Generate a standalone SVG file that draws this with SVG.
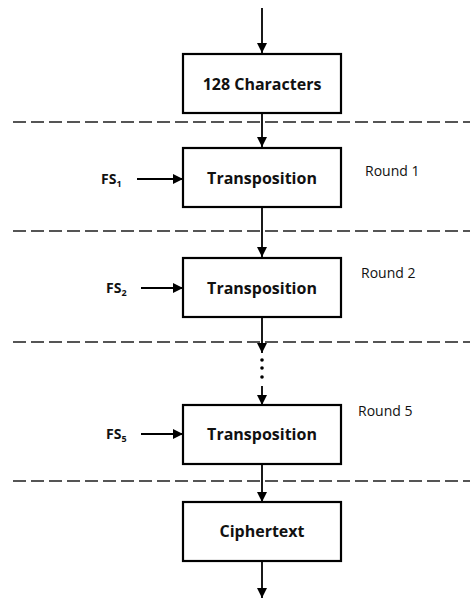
<svg xmlns="http://www.w3.org/2000/svg" width="473" height="598" viewBox="0 0 473 598">
<style>
.box{fill:#fff;stroke:#000;stroke-width:2.2}
.lbl{font-family:"Open Sans","Liberation Sans",sans-serif;font-weight:bold;font-size:16px;fill:#111;text-anchor:middle}
.fs{font-family:"Open Sans","Liberation Sans",sans-serif;font-weight:bold;font-size:14px;fill:#111}
.rnd{font-family:"Open Sans","Liberation Sans",sans-serif;font-size:14px;fill:#111}
.ln{stroke:#000;stroke-width:1.8;fill:none}
.dash{stroke:#555;stroke-width:2;stroke-dasharray:13,5;fill:none}
</style>
<defs>
<marker id="ah" viewBox="0 0 10 10" refX="10" refY="5" markerWidth="10" markerHeight="10" markerUnits="userSpaceOnUse" orient="auto">
<path d="M0,0 L10,5 L0,10 z" fill="#000"/>
</marker>
</defs>
<g id="separators">
<line class="dash" x1="13" y1="122" x2="470" y2="122"/>
<line class="dash" x1="13" y1="231" x2="470" y2="231"/>
<line class="dash" x1="13" y1="342" x2="470" y2="342"/>
<line class="dash" x1="13" y1="481" x2="470" y2="481"/>
</g>
<g id="connectors">
<line class="ln" x1="262" y1="8" x2="262" y2="53" marker-end="url(#ah)"/>
<line class="ln" x1="262" y1="113" x2="262" y2="147" marker-end="url(#ah)"/>
<line class="ln" x1="262" y1="207" x2="262" y2="257" marker-end="url(#ah)"/>
<line class="ln" x1="262" y1="317" x2="262" y2="353" marker-end="url(#ah)"/>
<line class="ln" x1="262" y1="386" x2="262" y2="405" marker-end="url(#ah)"/>
<line class="ln" x1="262" y1="464" x2="262" y2="502" marker-end="url(#ah)"/>
<line class="ln" x1="262" y1="561" x2="262" y2="598" marker-end="url(#ah)"/>
<line class="ln" x1="137" y1="179" x2="183" y2="179" marker-end="url(#ah)"/>
<line class="ln" x1="141" y1="288" x2="183" y2="288" marker-end="url(#ah)"/>
<line class="ln" x1="141" y1="434" x2="183" y2="434" marker-end="url(#ah)"/>
<circle cx="262" cy="360" r="1.8" fill="#000"/>
<circle cx="262" cy="368" r="1.8" fill="#000"/>
<circle cx="262" cy="377" r="1.8" fill="#000"/>
</g>
<g id="n-chars">
<rect class="box" x="183" y="54" width="158" height="59"/>
<text class="lbl" x="262" y="90">128 Characters</text>
</g>
<g id="n-t1">
<rect class="box" x="183" y="148" width="158" height="59"/>
<text class="lbl" x="262" y="184">Transposition</text>
</g>
<g id="n-t2">
<rect class="box" x="183" y="258" width="158" height="59"/>
<text class="lbl" x="262" y="294">Transposition</text>
</g>
<g id="n-t5">
<rect class="box" x="183" y="405" width="158" height="59"/>
<text class="lbl" x="262" y="440">Transposition</text>
</g>
<g id="n-cipher">
<rect class="box" x="183" y="502" width="158" height="59"/>
<text class="lbl" x="262" y="537">Ciphertext</text>
</g>
<g id="inputs">
<text class="fs" x="101" y="184">FS<tspan font-size="9" dy="3">1</tspan></text>
<text class="fs" x="106" y="293">FS<tspan font-size="9" dy="3">2</tspan></text>
<text class="fs" x="106" y="439">FS<tspan font-size="9" dy="3">5</tspan></text>
</g>
<g id="rounds">
<text class="rnd" x="365" y="176">Round 1</text>
<text class="rnd" x="361" y="278">Round 2</text>
<text class="rnd" x="358" y="416">Round 5</text>
</g>
</svg>
